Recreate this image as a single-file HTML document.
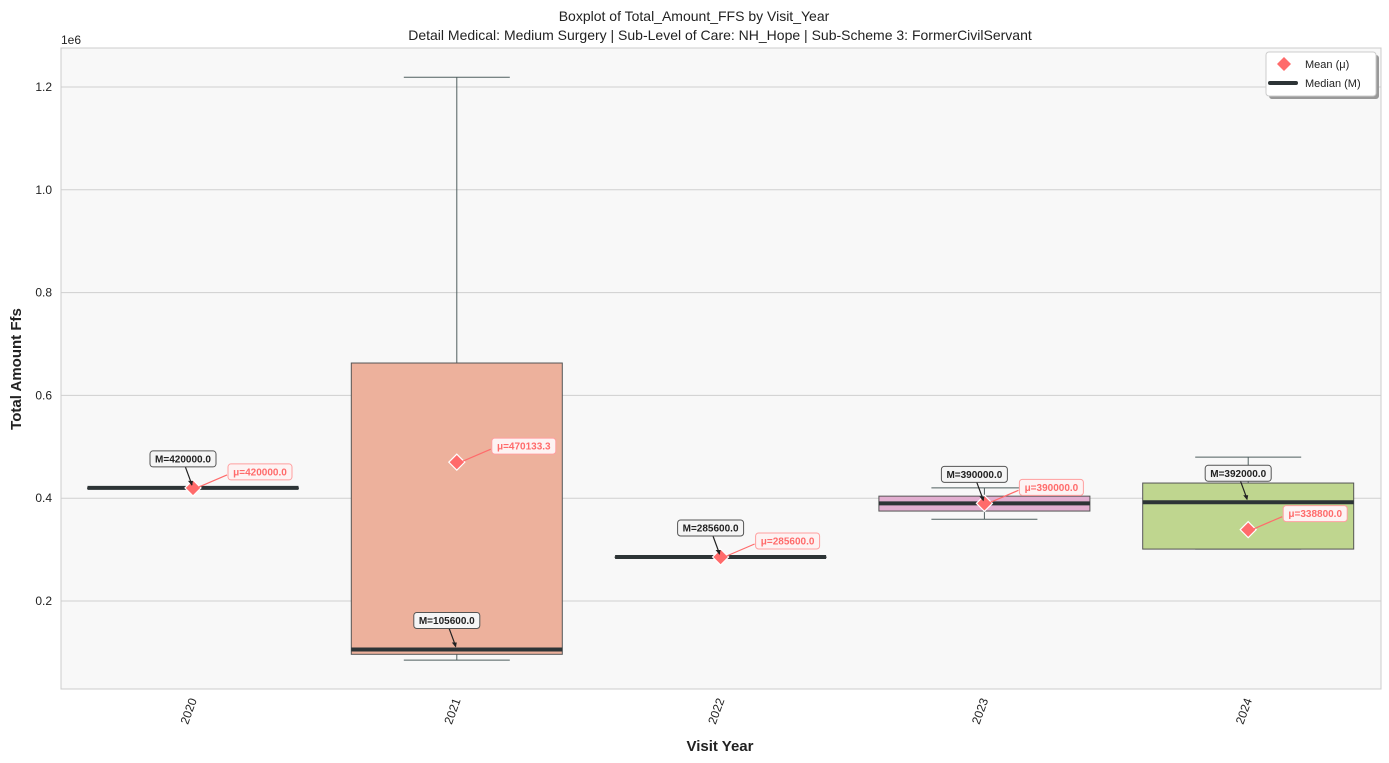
<!DOCTYPE html>
<html><head><meta charset="utf-8"><style>
html,body{margin:0;padding:0;background:#fff;}
svg{display:block;font-family:"Liberation Sans","DejaVu Sans",sans-serif;}
</style></head><body>
<svg id="chart" width="1389" height="763" viewBox="0 0 1389 763">
<rect x="61" y="48" width="1320" height="641" fill="#f8f8f8" stroke="#cccccc"/>
<g id="grid"></g><g id="boxes"></g><g id="ann"></g><g id="axes"></g>
<text x="694" y="21" text-anchor="middle" font-size="14" fill="#222">Boxplot of Total_Amount_FFS by Visit_Year</text>
<text x="720" y="40" text-anchor="middle" font-size="14" fill="#222">Detail Medical: Medium Surgery | Sub-Level of Care: NH_Hope | Sub-Scheme 3: FormerCivilServant</text>
<text x="61" y="44" font-size="12" fill="#222">1e6</text>
<text transform="translate(21,369) rotate(-90)" text-anchor="middle" font-size="15" font-weight="bold" fill="#222">Total Amount Ffs</text>
<text x="720" y="751" text-anchor="middle" font-size="15" font-weight="bold" fill="#222">Visit Year</text>
<g>
<rect x="1269" y="55" width="110" height="44" rx="3" fill="#999"/>
<rect x="1266" y="52" width="110" height="44" rx="3" fill="#fff" stroke="#ccc"/>
<path d="M1284 57 L1291 64 L1284 71 L1277 64 Z" fill="#ff6b6b"/>
<text x="1305" y="68" font-size="11" fill="#222">Mean (μ)</text>
<line x1="1270" y1="83" x2="1296" y2="83" stroke="#2d3436" stroke-width="4" stroke-linecap="round"/>
<text x="1305" y="87" font-size="11" fill="#222">Median (M)</text>
</g>
</svg>
<script>
const categories=["2020","2021","2022","2023","2024"];
const whiskerLow=[420000,84900,285600,359000,301000];
const q1=[420000,96300,285600,375000,301000];
const medians=[420000,105600,285600,390000,392000];
const q3=[420000,663000,285600,404000,429500];
const whiskerHigh=[420000,1219000,285600,420000,480000];
const means=[420000,470133.3,285600,390000,338800];
const colors=["#8dd3c7","#edb19c","#cccccc","#e2aed0","#bfd68f"];
const yTicks=[0.2,0.4,0.6,0.8,1.0,1.2];
const NS="http://www.w3.org/2000/svg";
function y(v){return 703.8-v/1e6*514;}
function x(i){return 193+i*263.8;}
const BW=211;
function mk(parent,tag,attrs){const e=document.createElementNS(NS,tag);for(const k in attrs)e.setAttribute(k,attrs[k]);document.getElementById(parent).appendChild(e);return e;}
yTicks.forEach(t=>{
 const g=mk("grid","line",{x1:61,x2:1381,y1:y(t*1e6),y2:y(t*1e6),stroke:"#cfcfcf","stroke-width":1});
 
 
 const l=mk("axes","text",{x:52,y:y(t*1e6)+4,"text-anchor":"end","font-size":12,fill:"#222"});
 l.textContent=t.toFixed(1);
 
 
});
categories.forEach((c,i)=>{
 const cx=x(i);
 const lab=mk("axes","text",{transform:`translate(${cx+4},${700}) rotate(-70)`,"text-anchor":"end","font-size":12,fill:"#222"});
 lab.textContent=c;
 
 
 const g=mk("boxes","g",{});
 
 
 const add=(tag,a)=>{const e=document.createElementNS(NS,tag);for(const k in a)e.setAttribute(k,a[k]);g.appendChild(e);return e;};
 const wc="#4f5f5f";
 add("line",{x1:cx,x2:cx,y1:y(whiskerHigh[i]),y2:y(q3[i]),stroke:wc});
 add("line",{x1:cx,x2:cx,y1:y(q1[i]),y2:y(whiskerLow[i]),stroke:wc});
 add("line",{x1:cx-53,x2:cx+53,y1:y(whiskerHigh[i]),y2:y(whiskerHigh[i]),stroke:wc});
 add("line",{x1:cx-53,x2:cx+53,y1:y(whiskerLow[i]),y2:y(whiskerLow[i]),stroke:wc});
 add("rect",{x:cx-BW/2,y:y(q3[i]),width:BW,height:Math.max(0.5,y(q1[i])-y(q3[i])),fill:colors[i],stroke:"#555","stroke-width":1});
 add("line",{x1:cx-BW/2,x2:cx+BW/2,y1:y(medians[i]),y2:y(medians[i]),stroke:"#2d3436","stroke-width":4});
 const my=y(means[i]);
 const m=add("path",{d:`M${cx} ${my-8} L${cx+8} ${my} L${cx} ${my+8} L${cx-8} ${my} Z`,fill:"#ff6b6b",stroke:"#fff","stroke-width":1.2});
 // median annotation
 const ay=y(medians[i]);
 const bx=cx-10,by=ay-29;
 const ga=mk("ann","g",{});
 
 
 const a1=document.createElementNS(NS,"line");[["x1",bx+2],["y1",by+7],["x2",cx-1],["y2",ay-3],["stroke","#222"],["stroke-width",1.2]].forEach(p=>a1.setAttribute(p[0],p[1]));ga.appendChild(a1);
 const ah=document.createElementNS(NS,"path");ah.setAttribute("d",`M${cx-1} ${ay-2} l-4 -5 l5 0 Z`);ah.setAttribute("fill","#222");ga.appendChild(ah);
 const r1=document.createElementNS(NS,"rect");[["x",bx-33],["y",by-8],["width",66],["height",16],["rx",3],["fill","#f5f5f5"],["stroke","#555"]].forEach(p=>r1.setAttribute(p[0],p[1]));ga.appendChild(r1);
 const t1=document.createElementNS(NS,"text");[["x",bx],["y",by+3.5],["text-anchor","middle"],["font-size",10],["font-weight","bold"],["fill","#222"]].forEach(p=>t1.setAttribute(p[0],p[1]));t1.textContent="M="+medians[i].toFixed(1);ga.appendChild(t1);
 // mean annotation
 const mx=cx+67,myy=my-16;
 const gm=mk("ann","g",{});
 
 
 const a2=document.createElementNS(NS,"line");[["x1",mx-33],["y1",myy+3],["x2",cx+6],["y2",my-1],["stroke","#ff6b6b"],["stroke-width",1.2]].forEach(p=>a2.setAttribute(p[0],p[1]));gm.appendChild(a2);
 const r2=document.createElementNS(NS,"rect");[["x",mx-32],["y",myy-8],["width",64],["height",16],["rx",3],["fill","#fdf3f3"],["stroke","#ff9f9f"]].forEach(p=>r2.setAttribute(p[0],p[1]));gm.appendChild(r2);
 const t2=document.createElementNS(NS,"text");[["x",mx],["y",myy+3.5],["text-anchor","middle"],["font-size",10],["font-weight","bold"],["fill","#ff6b6b"]].forEach(p=>t2.setAttribute(p[0],p[1]));t2.textContent="μ="+means[i].toFixed(1);gm.appendChild(t2);
});
</script>
</body></html>
